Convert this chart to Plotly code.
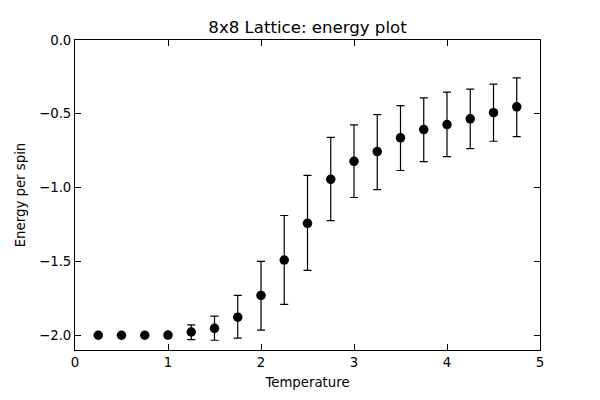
import plotly.graph_objects as go

temperature = [0.25, 0.5, 0.75, 1.0, 1.25, 1.5, 1.75, 2.0, 2.25, 2.5, 2.75, 3.0, 3.25, 3.5, 3.75, 4.0, 4.25, 4.5, 4.75]
energy = [-2.0, -2.0, -2.0, -1.999, -1.978, -1.953, -1.878, -1.730, -1.491, -1.242, -0.944, -0.822, -0.756, -0.663, -0.607, -0.573, -0.534, -0.492, -0.453]
err_plus = [0.0, 0.0, 0.0, 0.005, 0.048, 0.083, 0.148, 0.230, 0.302, 0.325, 0.284, 0.247, 0.251, 0.218, 0.215, 0.220, 0.201, 0.193, 0.197]
err_minus = [0.0, 0.0, 0.0, 0.005, 0.052, 0.081, 0.142, 0.236, 0.300, 0.319, 0.279, 0.245, 0.257, 0.221, 0.217, 0.217, 0.202, 0.194, 0.202]

x_ticks = [0, 1, 2, 3, 4, 5]
y_ticks = [-2.0, -1.5, -1.0, -0.5, 0.0]
y_labels = ["\u22122.0", "\u22121.5", "\u22121.0", "\u22120.5", "0.0"]

fig = go.Figure()
fig.add_trace(go.Scatter(
    x=temperature, y=energy, mode="markers",
    marker=dict(color="black", size=9.5),
    error_y=dict(type="data", symmetric=False, array=err_plus, arrayminus=err_minus,
                 color="black", thickness=1.2, width=4),
    showlegend=False,
))

font = "DejaVu Sans"
fig.update_layout(
    width=600, height=400,
    margin=dict(l=75, r=60, t=40, b=50),
    paper_bgcolor="white", plot_bgcolor="white",
    font=dict(family=font, size=13.3, color="black"),
    title=dict(text="8x8 Lattice: energy plot", x=0.5, xref="paper", xanchor="center",
               y=1 - 27 / 400, yref="container", yanchor="middle",
               font=dict(family=font, size=16.6, color="black")),
    xaxis=dict(range=[0, 5], tickvals=x_ticks, ticktext=[str(v) for v in x_ticks],
               ticks="inside", ticklen=6, tickcolor="black", showline=True, linecolor="black",
               linewidth=1, mirror="ticks", showgrid=False, zeroline=False,
               title=dict(text="Temperature", standoff=8, font=dict(size=13.3)),
               tickfont=dict(size=13.3)),
    yaxis=dict(range=[-2.1, 0.0], tickvals=y_ticks, ticktext=y_labels,
               ticks="inside", ticklen=6, tickcolor="black", showline=True, linecolor="black",
               linewidth=1, mirror="ticks", showgrid=False, zeroline=False,
               title=dict(text="Energy per spin", standoff=10, font=dict(size=13.3)),
               tickfont=dict(size=13.3)),
)

fig.write_html("out.html")
